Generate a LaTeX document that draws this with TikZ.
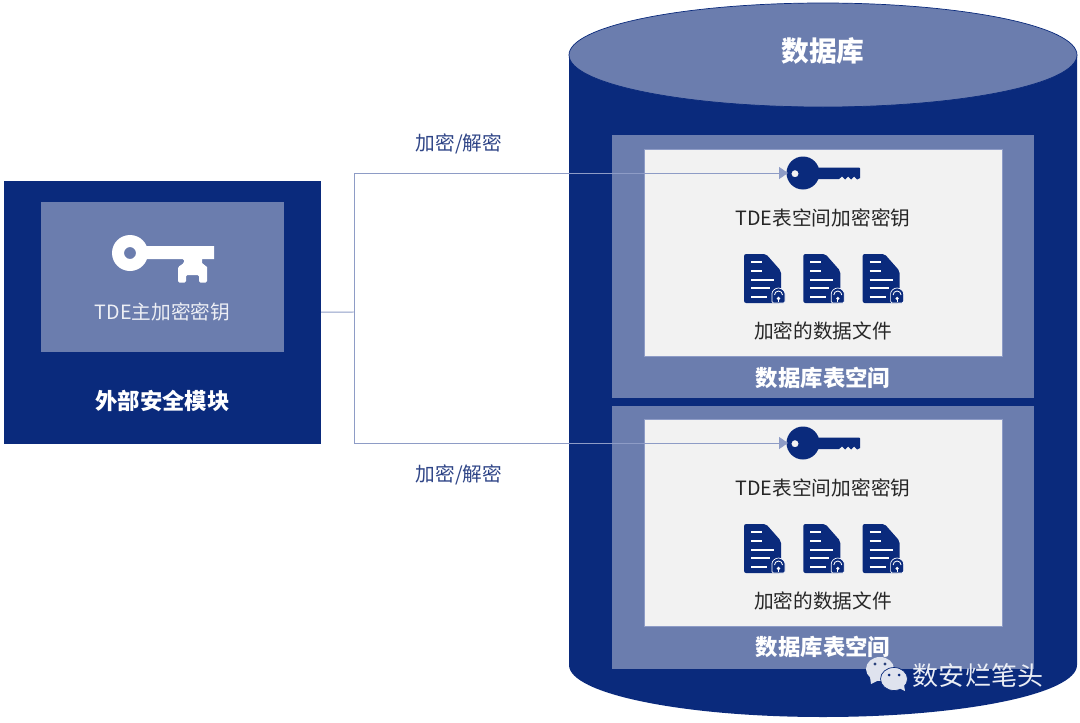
\documentclass[tikz,border=0pt]{standalone}
\usepackage{fontspec}
\setmainfont{Noto Sans CJK SC}
\usepackage{xcolor}
\usetikzlibrary{calc,arrows.meta,positioning}
\definecolor{navyc}{HTML}{0A2A7C}
\definecolor{midc}{HTML}{6B7DAE}
\definecolor{paperc}{HTML}{F2F2F2}
\definecolor{linec}{HTML}{8E9CC6}
\definecolor{inkc}{HTML}{262626}
\definecolor{labelc}{HTML}{2F4587}
\definecolor{chatc}{HTML}{DFE3EE}
\tikzset{
  ln/.style={linec,line width=0.7pt},
  ar/.style={ln,-{Triangle[length=6.4pt,width=8.6pt,fill=linec]}},
  box/.style={fill=#1,inner sep=0pt,outer sep=0pt},
  lite/.style={font=\fontsize{14}{16}\selectfont},
  head/.style={font=\fontsize{15.9}{18}\selectfont\bfseries,white},
  bigkey/.pic={
    \fill[white,even odd rule] (0,0) circle (18) (0,0) circle (6);
    \fill[white] (12,-7) -- (84,-7) -- (84,6) -- (72,6) -- (72,10) -- (77,14) [rounded corners=1pt] -- (77,29.6) -- (69,29.6) -- (69,22) -- (56,22) -- (56,29.6) -- (48,29.6) -- (48,14) -- (54,10) -- (54,6) -- (12,6) -- cycle;
  },
  dbkey/.pic={
    \fill[navyc,even odd rule] (0,0) circle (16.5) (-8,0.7) circle (3.6);
    \fill[navyc] (12,-5.5) -- (56,-5.5) -- (57,-4.5) -- (57,5) -- (54,6.5) -- (51,3.5) -- (48,6.5) -- (45,3.5) -- (42,6.5) -- (39,3.5) -- (36,6) -- (12,6) -- cycle;
  },
  lockdoc/.pic={
    \fill[navyc,rounded corners=1.5pt] (0,0) -- (22,0) -- (37,17) -- (37,49) -- (0,49) -- cycle;
    \draw[white,line width=1pt] (7,8) -- (18,8) (7,17) -- (18,17) (7,26) -- (30,26) (7,34) -- (26,34) (7,43) -- (23,43);
    \draw[white,fill=navyc,line width=0.5pt,rounded corners=1pt] (28,49) -- (28,41) arc[start angle=180,end angle=360,x radius=6.5,y radius=7] -- (41,49) -- cycle;
    \draw[white,line width=0.6pt] (30.5,41) arc[start angle=180,end angle=360,x radius=4,y radius=4];
    \fill[white] (34.5,44.5) circle (1.8);
    \draw[white,line width=0.6pt] (34.5,44.5) -- (34.5,47.5);
  }
}
\begin{document}
\begin{tikzpicture}[x=0.025cm,y=-0.025cm]
\useasboundingbox (0,0) rectangle (1080,723);
% cylinder
\fill[navyc] (569,55) -- (569,665) arc[start angle=180,end angle=0,x radius=254,y radius=52] -- (1077,55) -- cycle;
\draw[navyc,fill=midc,line width=0.5pt] (823,55) ellipse [x radius=254,y radius=52];
\node[white,font=\fontsize{19.7}{22}\selectfont\bfseries] (dbname) at (823,51) {数据库};
% left box
\node[box=navyc,minimum width=317*0.025cm,minimum height=263*0.025cm] (hsm) at (162.5,312.5) {};
\node[box=midc,minimum width=243*0.025cm,minimum height=150*0.025cm] (hsmin) at (162.5,277) {};
\pic at (130,253) {bigkey};
\node[lite,white!88!midc] (mk) at (162.5,312) {TDE主加密密钥};
\node[head] (hsmname) at (162.5,401) {外部安全模块};
% tablespaces
\foreach \n/\dy/\tsy in {a/0/266.5,b/270/537.5}{
  \node[box=midc,minimum width=422*0.025cm,minimum height=263*0.025cm] (ts\n) at (823,\tsy) {};
  \node[box=paperc,draw=linec,line width=0.4pt,minimum width=358*0.025cm,minimum height=207*0.025cm] (in\n) at (823,252.5+\dy) {};
  \coordinate (key\n) at (788,173+\dy);
  \pic at (803,173+\dy) {dbkey};
  \node[lite,inkc] (tk\n) at (823,217.5+\dy) {TDE表空间加密密钥};
  \foreach \i in {0,1,2}
    \pic at (744+59.3*\i,254+\dy) {lockdoc};
  \node[lite,inkc] (df\n) at (823,330.5+\dy) {加密的数据文件};
}
\node[head] (tsnamea) at (823,378) {数据库表空间};
\node[head] (tsnameb) at (823,647) {数据库表空间};
% connectors
\coordinate (split) at (354.5,312);
\draw[ln] (hsm) -- (split);
\draw[ar] (split) |- (keya);
\draw[ar] (split) |- (keyb);
\node[lite,labelc] (cra) at (459,144) {加密/解密};
\node[lite,labelc] (crb) at (459,475) {加密/解密};
% watermark
\fill[chatc] (880,669) ellipse [x radius=14,y radius=12];
\fill[chatc] (870,677) -- (871,684) -- (879,680) -- cycle;
\draw[navyc,fill=chatc,line width=0.5pt] (894,679) ellipse [x radius=13.5,y radius=11.5];
\fill[chatc] (899,688) -- (905,691) -- (904,685) -- cycle;
\fill[navyc!70!gray] (875,664) circle (1.6) (885,664) circle (1.6);
\fill[navyc] (889,675) circle (1.5) (899,675) circle (1.5);
\node[white!92!navyc,font=\fontsize{18.5}{22}\selectfont] (mark) at (978,676) {数安烂笔头};
\end{tikzpicture}
\end{document}
